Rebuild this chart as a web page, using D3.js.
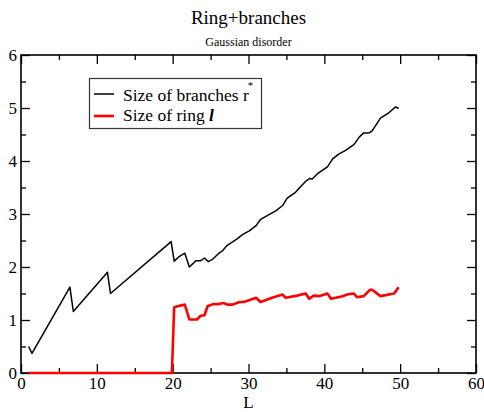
<!DOCTYPE html>
<html><head><meta charset="utf-8">
<script src="https://cdn.jsdelivr.net/npm/d3@7/dist/d3.min.js"></script>
<style>
html,body{margin:0;padding:0;background:#fff;}
svg{display:block;}
text{font-family:"Liberation Serif","Times New Roman",serif;fill:#000;}
</style></head>
<body>
<svg id="chart" width="484" height="412"></svg>
<script>
const branchL = [1, 1.45, 6.45, 6.9, 11.4, 11.8, 19.8, 20.2, 20.8, 21.6, 22.2, 23.1, 23.7, 24.2, 24.7, 25.3, 26.1, 26.6, 27.2, 28.5, 29.2, 30.1, 31.0, 31.6, 32.7, 33.6, 34.5, 35.1, 36.2, 36.7, 37.55, 38.1, 38.4, 39.1, 40.4, 41.1, 41.9, 42.8, 43.9, 44.6, 45.2, 45.9, 46.3, 47.4, 48.5, 49.4, 49.8];
const branchV = [0.5, 0.37, 1.62, 1.16, 1.90, 1.50, 2.48, 2.11, 2.19, 2.26, 2.0, 2.12, 2.12, 2.17, 2.10, 2.15, 2.26, 2.31, 2.41, 2.53, 2.61, 2.68, 2.78, 2.9, 2.99, 3.06, 3.16, 3.30, 3.41, 3.49, 3.62, 3.67, 3.66, 3.76, 3.89, 4.04, 4.13, 4.20, 4.31, 4.45, 4.53, 4.53, 4.57, 4.81, 4.91, 5.02, 4.99];
const ringL = [1, 19.9, 20.2, 20.65, 21.6, 22.2, 23.2, 23.7, 24.2, 24.6, 25.3, 26.1, 26.7, 27.2, 27.9, 28.8, 29.4, 31.0, 31.6, 33.1, 34.5, 34.9, 36.4, 37.55, 38.0, 38.6, 39.3, 40.4, 40.9, 42.4, 43.0, 43.9, 44.3, 45.2, 46.0, 46.3, 47.4, 49.2, 49.8];
const ringV = [0, 0, 1.24, 1.26, 1.29, 1.01, 1.01, 1.08, 1.09, 1.26, 1.30, 1.30, 1.32, 1.29, 1.29, 1.34, 1.34, 1.42, 1.34, 1.42, 1.48, 1.42, 1.46, 1.50, 1.40, 1.46, 1.45, 1.50, 1.40, 1.45, 1.48, 1.50, 1.43, 1.45, 1.57, 1.57, 1.45, 1.50, 1.62];
const xMajor = [0, 10, 20, 30, 40, 50, 60];
const xMinor = [5, 15, 25, 35, 45, 55];
const yMajor = [0, 1, 2, 3, 4, 5, 6];
const yMinor = [0.5, 1.5, 2.5, 3.5, 4.5, 5.5];
const titleText = "Ring+branches";
const subtitleText = "Gaussian disorder";
const xLabel = "L";

(function(){
const svg = d3.select("#chart");
const pL = 21, pR = 476, pT = 55, pB = 373;
const x = d3.scaleLinear().domain([0, 60]).range([pL, pR]);
const y = d3.scaleLinear().domain([0, 6]).range([pB, pT]);
const SERIF = "'Liberation Serif', 'Times New Roman', serif";

function styleAxis(g){
  g.attr("font-family", SERIF).attr("font-size", 17);
  g.select(".domain").remove();
  g.selectAll(".tick line").attr("stroke","#000").attr("stroke-width",1.3);
  g.selectAll(".tick text").attr("font-family", SERIF).attr("font-size", 17).attr("fill","#000");
}
const fmt = d3.format("d");
svg.append("g").attr("transform",`translate(0,${pB})`)
  .call(d3.axisBottom(x).tickValues(xMajor).tickSize(-9).tickPadding(4).tickFormat(fmt)).call(styleAxis);
svg.append("g").attr("transform",`translate(0,${pB})`)
  .call(d3.axisBottom(x).tickValues(xMinor).tickSize(-5).tickFormat("")).call(styleAxis);
svg.append("g").attr("transform",`translate(0,${pT})`)
  .call(d3.axisTop(x).tickValues(xMajor).tickSize(-9).tickFormat("")).call(styleAxis);
svg.append("g").attr("transform",`translate(0,${pT})`)
  .call(d3.axisTop(x).tickValues(xMinor).tickSize(-5).tickFormat("")).call(styleAxis);
svg.append("g").attr("transform",`translate(${pL},0)`)
  .call(d3.axisLeft(y).tickValues(yMajor).tickSize(-9).tickPadding(4).tickFormat(fmt)).call(styleAxis);
svg.append("g").attr("transform",`translate(${pL},0)`)
  .call(d3.axisLeft(y).tickValues(yMinor).tickSize(-5).tickFormat("")).call(styleAxis);
svg.append("g").attr("transform",`translate(${pR},0)`)
  .call(d3.axisRight(y).tickValues(yMajor).tickSize(-9).tickFormat("")).call(styleAxis);
svg.append("g").attr("transform",`translate(${pR},0)`)
  .call(d3.axisRight(y).tickValues(yMinor).tickSize(-5).tickFormat("")).call(styleAxis);

svg.append("rect").attr("x",pL).attr("y",pT).attr("width",pR-pL).attr("height",pB-pT)
  .attr("fill","none").attr("stroke","#000").attr("stroke-width",1.6);

const line = d3.line().x(d=>x(d[0])).y(d=>y(d[1]));
const branchData = branchL.map((l,i)=>[l, branchV[i]]);
const ringData = ringL.map((l,i)=>[l, ringV[i]]);
svg.append("path").datum(branchData).attr("d",line).attr("fill","none").attr("stroke","#000").attr("stroke-width",1.5).attr("stroke-linejoin","round");
svg.append("path").datum(ringData).attr("d",line).attr("fill","none").attr("stroke","#ff0000").attr("stroke-width",2.6).attr("stroke-linejoin","round");

const cx = (pL+pR)/2;
svg.append("text").attr("x",cx).attr("y",24).attr("text-anchor","middle").attr("font-family",SERIF).attr("font-size",19).text(titleText);
svg.append("text").attr("x",cx).attr("y",46).attr("text-anchor","middle").attr("font-family",SERIF).attr("font-size",12).text(subtitleText);
svg.append("text").attr("x",cx).attr("y",408).attr("text-anchor","middle").attr("font-family",SERIF).attr("font-size",17).text(xLabel);

const lg = svg.append("g").attr("font-family",SERIF);
lg.append("rect").attr("x",89.5).attr("y",78.5).attr("width",172).attr("height",50)
  .attr("fill","#fff").attr("stroke","#333").attr("stroke-width",1.2);
lg.append("line").attr("x1",94).attr("x2",114).attr("y1",94).attr("y2",94).attr("stroke","#000").attr("stroke-width",1.5);
lg.append("line").attr("x1",94).attr("x2",114).attr("y1",116).attr("y2",116).attr("stroke","#ff0000").attr("stroke-width",2.6);
const t1 = lg.append("text").attr("x",123).attr("y",101).attr("font-size",17.5);
t1.append("tspan").text("Size of branches r");
t1.append("tspan").attr("dx",-1).attr("dy",-12).attr("font-size",11).text("*");
const t2 = lg.append("text").attr("x",123).attr("y",121).attr("font-size",17.5);
t2.append("tspan").text("Size of ring ");
t2.append("tspan").attr("font-weight","bold").attr("font-style","italic").text("l");
})();
</script>
</body></html>
